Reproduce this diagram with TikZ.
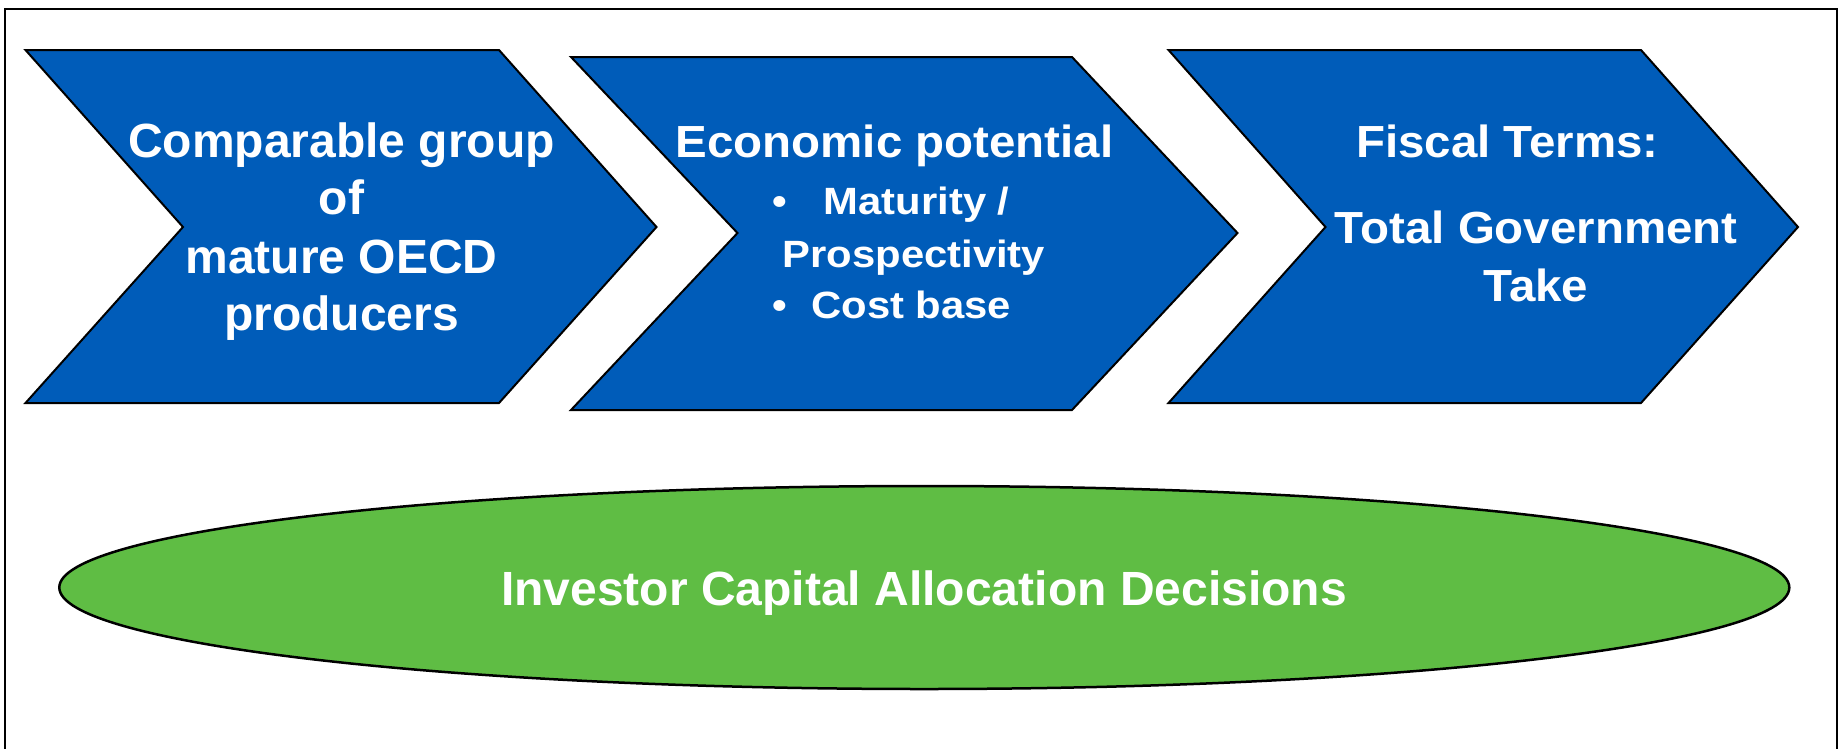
\documentclass[tikz,border=0pt]{standalone}
\usepackage{fontspec}
\setmainfont{Liberation Sans}
\usetikzlibrary{shapes.geometric}
\definecolor{chevblue}{RGB}{0,92,185}
\definecolor{leafgreen}{RGB}{95,189,68}
% slightly widened lettering
\newcommand{\widetext}[2]{\scalebox{#1}[1]{#2}}
\begin{document}
\begin{tikzpicture}[x=1pt,y=-1pt,
  chev/.style={fill=chevblue,draw=black,line width=2pt,line join=miter},
  headline/.style={anchor=base,inner sep=0pt,text=white,
    font=\fontsize{48}{57}\selectfont\bfseries},
  headwide/.style={anchor=base,inner sep=0pt,text=white,
    font=\fontsize{45}{54}\selectfont\bfseries},
  subline/.style={inner sep=0pt,text=white,
    font=\fontsize{38}{46}\selectfont\bfseries},
  oval/.style={ellipse,fill=leafgreen,draw=black,line width=2.5pt,
    minimum width=1730pt,minimum height=203pt,inner sep=0pt}]
\useasboundingbox (0,0) rectangle (1839,748);

% outer frame (open at the bottom)
\draw[line width=2.5pt] (5,749) -- (5,9) -- (1837,9) -- (1837,749);

% three process chevrons
\draw[chev] (25.5,50) -- (499,50) -- (656.5,227) -- (499,403) -- (25.5,403) -- (183,227) -- cycle;
\draw[chev] (571,57) -- (1072,57) -- (1237.5,233) -- (1072,410) -- (571,410) -- (737.5,233) -- cycle;
\draw[chev] (1168.5,50) -- (1641,50) -- (1798,227) -- (1641,403) -- (1168.5,403) -- (1325.5,227) -- cycle;

% first chevron text
\node[headline] (c1a) at (341.5,157.5) {Comparable group};
\node[headline] (c1b) at (341.5,214) {of};
\node[headline] (c1c) at (341.5,273) {mature OECD};
\node[headline] (c1d) at (341.5,330) {producers};

% second chevron text
\node[headwide] (c2a) at (894.5,157) {\widetext{1.055}{Economic potential}};
\node[subline,anchor=base west] (c2b) at (772,214) {\widetext{1.1}{\textbullet\hspace{33.6pt}Maturity /}};
\node[subline,anchor=base] (c2c) at (913.9,267) {\widetext{1.1}{Prospectivity}};
\node[subline,anchor=base west] (c2d) at (772,318) {\widetext{1.1}{\textbullet\hspace{22.3pt}Cost base}};

% third chevron text
\node[headwide] (c3a) at (1507.5,157.5) {\widetext{1.055}{Fiscal Terms:}};
\node[headwide] (c3b) at (1536.3,243.5) {\widetext{1.055}{Total Government}};
\node[headwide] (c3c) at (1536,301.7) {\widetext{1.055}{Take}};

% investor decisions
\node[oval] (inv) at (924.3,587.5) {};
\node[headline] (invtext) at (924,605) {Investor Capital Allocation Decisions};
\end{tikzpicture}
\end{document}
